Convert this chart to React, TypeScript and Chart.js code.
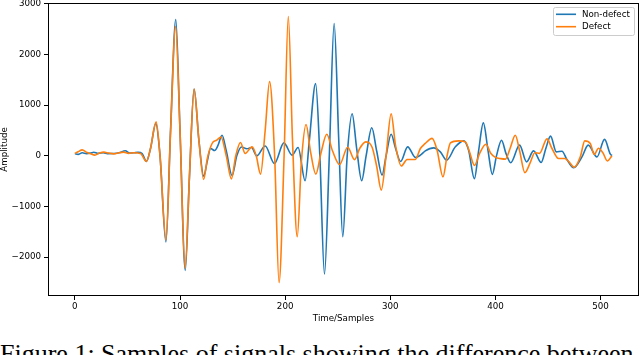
import React, { useEffect, useRef } from 'react';
import { Chart, registerables } from 'chart.js';

Chart.register(...registerables);

// ---------- data ----------
const seriesNames = ['Non-defect', 'Defect'];
const xTitle = 'Time/Samples';
const yTitle = 'Amplitude';
const caption = 'Figure 1: Samples of signals showing the difference between';
const xTicks = [0, 100, 200, 300, 400, 500];
const yTicks = [-2000, -1000, 0, 1000, 2000, 3000];

const nonDefectX = [
  0, 3, 7, 11, 15, 18, 22, 27, 31, 37, 42, 48, 52, 56, 60, 64, 68, 72, 77, 81,
  86.6, 91, 96, 100, 105, 109, 113.4, 118, 122.5, 126, 129, 133, 136, 140, 144, 149.5, 154, 158.5, 163.5, 168,
  173, 181, 189.8, 198.8, 206.6, 212.3, 219, 223, 229, 233, 237.4, 242, 246.6, 251, 254.8, 259, 263.7, 268, 272.8, 277,
  282.4, 287, 292.2, 296, 300.8, 305, 309.8, 316.5, 324, 328.6, 333.3, 341.2, 347.6, 353.5, 361.9, 369.8, 374.5, 380, 384, 388.5,
  393, 397, 401, 405.8, 410, 414.5, 423, 429.6, 436.3, 443.5, 448, 452.4, 457.9, 463.3, 468, 474.5, 482.3, 488.2, 496.6, 503.8,
  509.3, 511,
];
const nonDefectY = [
  45, 30, 60, 45, 55, 72, 50, 60, 45, 47, 60, 100, 55, 60, 70, 45, -110, 150, 640, 0,
  -1700, 500, 2690, 500, -2260, -400, 1320, 300, -400, -100, 146, 105, 200, 408, 100, -390, 0, 175, 140, 165,
  0, 195, -150, 256, 14, 165, -490, 300, 1426, 0, -2330, 0, 2610, 300, -1597, 0, 830, 150, -490, 0,
  555, 100, -380, 0, 427, 150, -110, 178, -33, 13, 99, 158, 79, -85, 178, 296, 112, -450, 100, 650,
  100, -365, 0, 309, 50, -135, 211, -118, 99, -131, 150, 390, 79, 92, -72, -236, -20, 211, -20, 325,
  33, 7,
];

const defectX = [
  0, 3, 7, 11, 15, 19, 23, 27.5, 32, 37, 42, 46.5, 51, 56, 62.4, 68, 72, 77.3, 81, 86.7,
  91, 95.8, 100, 104.8, 109, 113.4, 118, 122.5, 126, 130.5, 135, 139, 144, 148.9, 153, 157.5, 162, 168.5, 172.5, 176.6,
  181, 185.2, 190, 194.2, 199, 203, 207, 211.5, 215.5, 219.9, 224, 229.2, 234, 239.6, 245, 251.8, 259.5, 266, 271, 276.6,
  282.7, 287, 291.4, 296, 300.8, 305, 310.5, 316, 323.8, 328.6, 333, 339.8, 344.5, 350.1, 354, 357.2, 365, 371.4, 375, 380.1,
  385, 391, 395.5, 400, 405, 409.5, 414, 418.9, 423, 428, 433, 437.5, 442, 449, 453.8, 460, 466, 470, 475, 480.7,
  485, 490.2, 494, 498, 502.2, 506.5, 510.8,
];
const defectY = [
  47, 80, 118, 70, 40, 14, 50, 73, 55, 40, 60, 73, 50, 60, 47, -110, 150, 670, 0, -1660,
  450, 2550, 500, -2220, -400, 1320, 300, -465, -50, 244, 310, 370, 0, -455, 0, 263, 47, 178, 0, -360,
  500, 1465, 0, -2502, 0, 2750, 300, -1597, -100, 620, 100, -360, 50, 427, 100, -171, 170, -75, 150, 276,
  170, -200, -676, 0, 832, 200, -200, -71, -71, 145, 240, 345, 112, -414, 0, 256, 296, 276, 100, -190,
  50, 230, 50, -30, -55, -65, 150, 408, 100, -330, -138, 60, 50, 335, 145, -53, -53, -120, -225, -20,
  296, 244, 27, 150, 60, -100, 0,
];

// ---------- styles ----------
const BLUE = '#1f77b4';
const ORANGE = '#ff7f0e';
const FONT_FAMILY = "'DejaVu Sans', sans-serif";
const FONT_SIZE = 8.7;
const X_MIN = -25.55;
const X_MAX = 536.55;
const Y_MIN = -2765;
const Y_MAX = 3016;

const fmt = (v: number) => (v < 0 ? '\u2212' + Math.abs(v) : String(v));

const framePlugin = {
  id: 'frameAndLegend',
  afterDraw(chart: any) {
    const { ctx, chartArea: a } = chart;
    ctx.save();
    // frame (all four spines)
    ctx.strokeStyle = '#000';
    ctx.lineWidth = 1;
    const l = Math.round(a.left) + 0.5;
    const t = Math.round(a.top) + 0.5;
    const r = Math.round(a.right) - 0.5;
    const b = Math.round(a.bottom) - 0.5;
    ctx.strokeRect(l, t, r - l, b - t);

    // legend box, upper right
    const bw = 81;
    const bh = 28;
    const bx = a.right - 5 - bw;
    const by = a.top + 4;
    ctx.beginPath();
    if ((ctx as any).roundRect) (ctx as any).roundRect(bx + 0.5, by + 0.5, bw, bh, 2);
    else ctx.rect(bx + 0.5, by + 0.5, bw, bh);
    ctx.fillStyle = 'rgba(255,255,255,0.8)';
    ctx.fill();
    ctx.strokeStyle = '#cccccc';
    ctx.lineWidth = 1;
    ctx.stroke();

    const colors = [BLUE, ORANGE];
    ctx.font = `${FONT_SIZE}px ${FONT_FAMILY}`;
    ctx.textBaseline = 'middle';
    ctx.textAlign = 'left';
    seriesNames.forEach((name, i) => {
      const yy = by + 7.3 + i * 12.4;
      ctx.beginPath();
      ctx.moveTo(bx + 3, yy);
      ctx.lineTo(bx + 23, yy);
      ctx.strokeStyle = colors[i];
      ctx.lineWidth = 1.6;
      ctx.stroke();
      ctx.fillStyle = '#000';
      ctx.fillText(name, bx + 29, yy);
    });
    ctx.restore();
  },
};

export default function App() {
  const ref = useRef<HTMLCanvasElement | null>(null);

  useEffect(() => {
    if (!ref.current) return;
    const chart = new Chart(ref.current, {
      type: 'line',
      data: {
        datasets: [
          {
            label: seriesNames[0],
            data: nonDefectX.map((x, i) => ({ x, y: nonDefectY[i] })),
            borderColor: BLUE,
            backgroundColor: BLUE,
            borderWidth: 1.6,
            pointRadius: 0,
            cubicInterpolationMode: 'monotone',
            order: 1,
          },
          {
            label: seriesNames[1],
            data: defectX.map((x, i) => ({ x, y: defectY[i] })),
            borderColor: ORANGE,
            backgroundColor: ORANGE,
            borderWidth: 1.6,
            pointRadius: 0,
            cubicInterpolationMode: 'monotone',
            order: 0,
          },
        ],
      },
      options: {
        responsive: false,
        animation: false,
        devicePixelRatio: 1,
        parsing: true,
        layout: { padding: { left: 0, top: 3, right: 1, bottom: 0 } },
        plugins: {
          legend: { display: false },
          tooltip: { enabled: false },
        },
        scales: {
          x: {
            type: 'linear',
            min: X_MIN,
            max: X_MAX,
            afterBuildTicks: (s: any) => {
              s.ticks = xTicks.map((v) => ({ value: v }));
            },
            afterFit: (s: any) => {
              s.height = 34;
              s.paddingLeft = 0;
              s.paddingRight = 0;
            },
            border: { display: false },
            grid: {
              drawOnChartArea: false,
              drawTicks: true,
              tickLength: 4,
              tickColor: '#000',
              color: '#000',
            },
            ticks: {
              padding: 2,
              maxRotation: 0,
              color: '#000',
              font: { family: FONT_FAMILY, size: FONT_SIZE },
              callback: (v: any) => fmt(Number(v)),
            },
            title: {
              display: true,
              text: xTitle,
              color: '#000',
              padding: { top: 0, bottom: 6 },
              font: { family: FONT_FAMILY, size: FONT_SIZE },
            },
          },
          y: {
            type: 'linear',
            min: Y_MIN,
            max: Y_MAX,
            afterBuildTicks: (s: any) => {
              s.ticks = yTicks.map((v) => ({ value: v }));
            },
            afterFit: (s: any) => {
              s.width = 48;
              s.paddingTop = 0;
              s.paddingBottom = 0;
            },
            border: { display: false },
            grid: {
              drawOnChartArea: false,
              drawTicks: true,
              tickLength: 4,
              tickColor: '#000',
              color: '#000',
            },
            ticks: {
              padding: 3,
              color: '#000',
              font: { family: FONT_FAMILY, size: FONT_SIZE },
              callback: (v: any) => fmt(Number(v)),
            },
            title: {
              display: true,
              text: yTitle,
              color: '#000',
              padding: { top: 0, bottom: 0 },
              font: { family: FONT_FAMILY, size: FONT_SIZE },
            },
          },
        },
      },
      plugins: [framePlugin],
    } as any);
    return () => chart.destroy();
  }, []);

  return (
    <div
      style={{
        position: 'fixed',
        left: 0,
        top: 0,
        width: 640,
        height: 355,
        overflow: 'hidden',
        background: '#fff',
      }}
    >
      <canvas ref={ref} width={640} height={330} style={{ position: 'absolute', left: 0, top: 0, width: 640, height: 330 }} />
      <div
        style={{
          position: 'absolute',
          left: 0,
          top: 339,
          whiteSpace: 'nowrap',
          fontFamily: "'Liberation Serif', 'Times New Roman', serif",
          fontSize: 26,
          lineHeight: 1.15,
          color: '#000',
        }}
      >
        {caption}
      </div>
    </div>
  );
}
